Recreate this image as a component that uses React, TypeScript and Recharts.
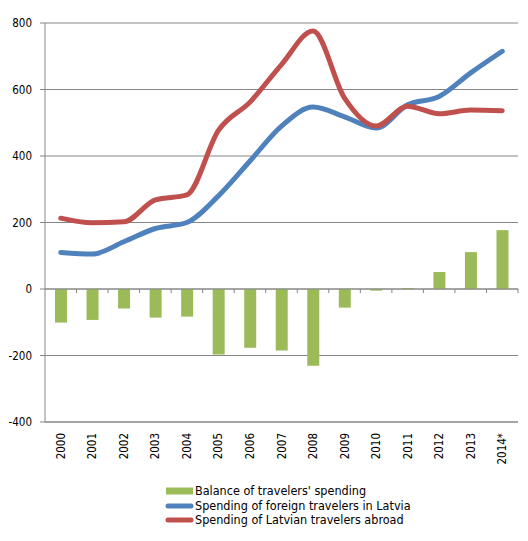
import React from 'react';
import {
  ComposedChart,
  Bar,
  Line,
  XAxis,
  YAxis,
  CartesianGrid,
  ReferenceLine,
  Legend,
} from 'recharts';

// travel spending, EUR million
const years = ['2000', '2001', '2002', '2003', '2004', '2005', '2006', '2007', '2008', '2009', '2010', '2011', '2012', '2013', '2014*'];
const balance = [-101, -93, -59, -86, -83, -197, -177, -185, -231, -56, -5, 3, 51, 111, 177];
const foreignInLatvia = [110, 105, 142, 182, 200, 280, 385, 490, 547, 518, 484, 554, 579, 650, 715];
const latviansAbroad = [213, 199, 202, 268, 283, 477, 562, 675, 776, 574, 490, 550, 527, 538, 536];
const yTicks = [-400, -200, 0, 200, 400, 600, 800];

const GREEN = '#9BBB59';
const BLUE = '#4F81BD';
const RED = '#C0504D';
const AXIS = '#868686';
const FONT = '"DejaVu Sans Condensed", "DejaVu Sans", Verdana, sans-serif';

const data = years.map((year, i) => ({
  year,
  balance: balance[i],
  foreign: foreignInLatvia[i],
  latvian: latviansAbroad[i],
}));

const legendItems = [
  { label: "Balance of travelers' spending", color: GREEN, kind: 'bar' },
  { label: 'Spending of foreign travelers in Latvia', color: BLUE, kind: 'line' },
  { label: 'Spending of Latvian travelers abroad', color: RED, kind: 'line' },
];

const YearTick = (props: any) => {
  const { x, y, payload } = props;
  return (
    <text
      x={x}
      y={y}
      transform={`rotate(-90 ${x} ${y})`}
      textAnchor="end"
      dy="0.35em"
      fontSize={11.5}
      fontFamily={FONT}
      fill="#000"
    >
      {payload.value}
    </text>
  );
};

// zero line with small tick marks between categories
const ZeroAxis = (props: any) => {
  const { x1, y1, x2, y2 } = props;
  const step = (x2 - x1) / years.length;
  return (
    <g>
      <line x1={x1} y1={y1} x2={x2} y2={y2} stroke={AXIS} strokeWidth={1} />
      {years.map((_, i) => (
        <line
          key={i}
          x1={x1 + step * (i + 1)}
          x2={x1 + step * (i + 1)}
          y1={y1}
          y2={y1 + 4}
          stroke={AXIS}
          strokeWidth={1}
        />
      ))}
    </g>
  );
};

const LegendBox = () => (
  <div style={{ fontFamily: FONT, fontSize: 12.5, color: '#000', lineHeight: '14.5px' }}>
    {legendItems.map((item) => (
      <div key={item.label} style={{ display: 'flex', alignItems: 'center', height: 14.5 }}>
        <svg width={29} height={10} style={{ marginRight: 1 }}>
          {item.kind === 'bar' ? (
            <rect x={1} y={1.5} width={27} height={7} fill={item.color} />
          ) : (
            <line x1={3} y1={5} x2={26} y2={5} stroke={item.color} strokeWidth={5} strokeLinecap="round" />
          )}
        </svg>
        <span style={{ whiteSpace: 'nowrap' }}>{item.label}</span>
      </div>
    ))}
  </div>
);

export default function App() {
  return (
    <div style={{ position: 'absolute', left: 0, top: 0, width: 528, height: 541, background: '#fff' }}>
      <ComposedChart
        width={528}
        height={541}
        data={data}
        margin={{ top: 23, right: 10, left: 0, bottom: 69 }}
        barSize={12}
      >
        <CartesianGrid vertical={false} stroke={AXIS} strokeWidth={1} />
        <XAxis
          dataKey="year"
          axisLine={{ stroke: AXIS }}
          tickLine={false}
          tickSize={0}
          tickMargin={11}
          height={50}
          interval={0}
          tick={<YearTick />}
        />
        <YAxis
          domain={[-400, 800]}
          ticks={yTicks}
          width={45}
          axisLine={{ stroke: AXIS }}
          tickLine={{ stroke: AXIS }}
          tickSize={5}
          tickMargin={8}
          tick={{ fontSize: 11.5, fontFamily: FONT, fill: '#000' }}
        />
        <ReferenceLine y={0} shape={<ZeroAxis />} />
        <Bar dataKey="balance" fill={GREEN} isAnimationActive={false} />
        <Line
          type="monotone"
          dataKey="foreign"
          stroke={BLUE}
          strokeWidth={5}
          strokeLinecap="round"
          dot={false}
          activeDot={false}
          isAnimationActive={false}
        />
        <Line
          type="monotone"
          dataKey="latvian"
          stroke={RED}
          strokeWidth={5}
          strokeLinecap="round"
          dot={false}
          activeDot={false}
          isAnimationActive={false}
        />
        <Legend
          layout="vertical"
          align="center"
          verticalAlign="middle"
          wrapperStyle={{ top: 484, left: 165, width: 300 }}
          content={<LegendBox />}
        />
      </ComposedChart>
    </div>
  );
}
